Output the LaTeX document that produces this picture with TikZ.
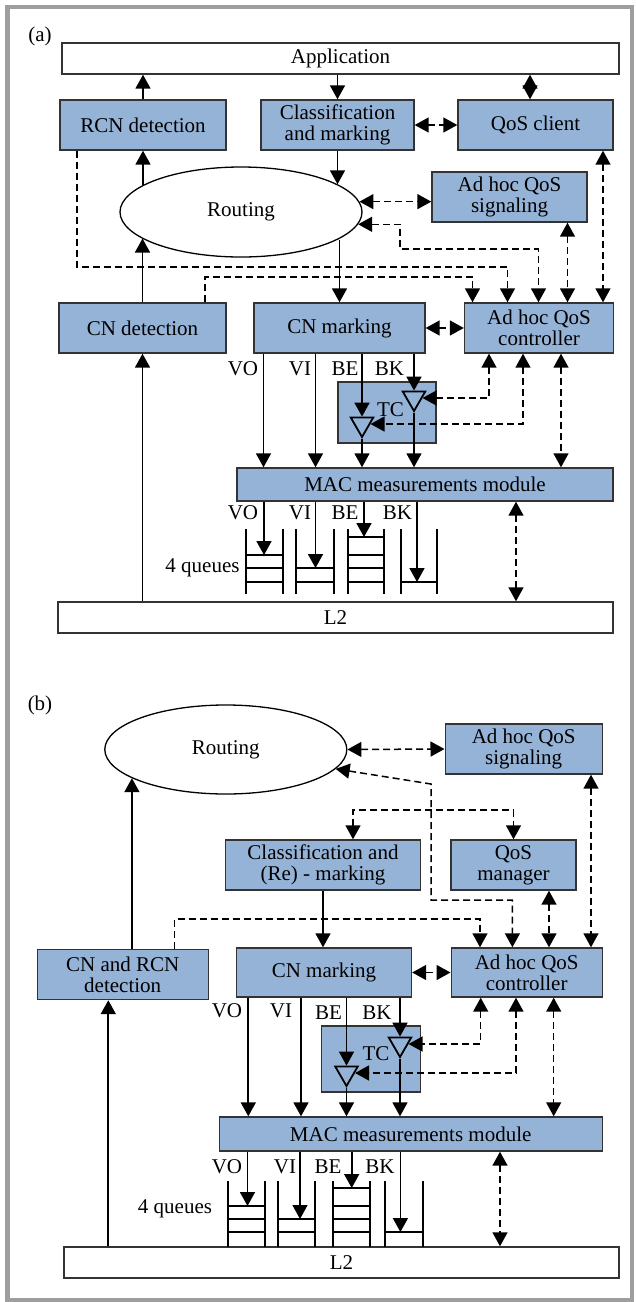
\documentclass[tikz,border=0pt]{standalone}
\usepackage{fontspec}
\setmainfont{Liberation Serif}
\usepackage{xcolor}
\usetikzlibrary{arrows.meta}
\usetikzlibrary{shapes.geometric}
\usetikzlibrary{calc}
\definecolor{boxblue}{RGB}{149,179,215}
\definecolor{framegray}{RGB}{158,158,158}

\begin{document}
\begin{tikzpicture}[x=1pt,y=-1pt,font=\fontsize{21}{21}\selectfont,
  blk/.style={draw=black!80,fill=boxblue,line width=1.4pt,align=center,inner sep=0pt},
  wblk/.style={draw=black!80,fill=white,line width=1.4pt,inner sep=0pt},
  oval/.style={draw=black,fill=white,ellipse,line width=1.3pt,inner sep=0pt},
  tri/.style={draw=black,regular polygon,regular polygon sides=3,shape border rotate=180,minimum size=26pt,inner sep=0pt,line width=1.8pt},
  arr/.style={line width=1.7pt,-{Triangle[length=14pt,width=15pt]}},
  dto/.style={line width=1.5pt,dash pattern=on 7pt off 4pt,-{Triangle[length=14pt,width=15pt]}},
  darr/.style={line width=1.5pt,dash pattern=on 7pt off 4pt,{Triangle[length=14pt,width=15pt]}-{Triangle[length=14pt,width=15pt]}},
  qline/.style={line width=2pt}]
\useasboundingbox (0,0) rectangle (636,1302);
\draw[framegray,line width=4.5pt] (7.5,7) rectangle (632,1300);

% (a)
\coordinate (vo) at (263.5,0);
\coordinate (vi) at (315.5,0);
\coordinate (t1) at (489,0);
\coordinate (t2) at (523,0);
\coordinate (m1) at (561,0);
\coordinate (m2) at (516,0);
\coordinate (q0) at (530,0);
\coordinate (c1) at (472.5,0);
\coordinate (c2) at (507.5,0);
\coordinate (c3) at (538.5,0);
\coordinate (c4) at (567.5,0);
\coordinate (c5) at (603,0);
\coordinate (k1) at (400,249);
\coordinate (k2) at (77,267);
\coordinate (k3) at (205,277);
\coordinate (qa1) at (264,555);
\coordinate (qa2) at (315.5,568);
\coordinate (qa3) at (364,537);
\coordinate (qa4) at (417,582);

\node (lba) at (40,36) {(a)};
\node (app) at (340.5,58.5) [wblk,minimum width=557pt,minimum height=31pt] {Application};
\node (rcn) at (143,125) [blk,minimum width=166pt,minimum height=50pt] {RCN detection};
\node (cls) at (337.5,125) [blk,minimum width=153pt,minimum height=50pt] {Classification\\and marking};
\node (qosc) at (535.5,125) [blk,minimum width=155pt,minimum height=50pt] {QoS client};
\node (rout) at (241,212) [oval,minimum width=242pt,minimum height=90pt] {Routing};
\node (sig) at (509.5,197) [blk,minimum width=155pt,minimum height=50pt] {Ad hoc QoS\\signaling};
\node (cnd) at (142.5,328) [blk,minimum width=167pt,minimum height=50pt] {CN detection};
\node (cnm) at (339.5,328) [blk,minimum width=171pt,minimum height=50pt] {CN marking};
\node (ctrl) at (539,328) [blk,minimum width=149pt,minimum height=50pt] {Ad hoc QoS\\controller};
\node (tc) at (387,412.5) [blk,minimum width=98pt,minimum height=61pt] {};
\node (tcl) at (390.5,410) {TC};
\node (upt) at (414,398) [tri] {};
\node (lot) at (362,424) [tri] {};
\node (mac) at (425,484.5) [blk,minimum width=376pt,minimum height=33pt] {MAC measurements module};
\node (ltwo) at (335.5,617.5) [wblk,minimum width=555pt,minimum height=31pt] {L2};
\node (vo1) at (243,369) {VO};
\node (vi1) at (300,369) {VI};
\node (be1) at (345,369) {BE};
\node (bk1) at (389.5,369) {BK};
\node (vo2) at (243,513) {VO};
\node (vi2) at (300,513) {VI};
\node (be2) at (345,513) {BE};
\node (bk2) at (397.5,513) {BK};
\node (nq) at (202.5,568) {4 queues};

\draw[arr] (rcn.north) -- (rcn.north |- app.south);
\draw[arr] (cls.north |- app.south) -- (cls.north);
\draw[darr] (q0 |- app.south) -- (q0 |- qosc.north);
\draw[darr] (cls.east) -- (qosc.west);
\draw[arr] (rcn.south |- rout.165) -- (rcn.south);
\draw[arr] (cls.south) -- (cls.south |- rout.16);
\draw[darr] (rout.5) -- (rout.5 -| sig.west);
\draw[darr] (rout.-6) -| (k1) -| (c3 |- ctrl.north);
\draw[dto] (k2 |- rcn.south) -- (k2) -| (c2 |- ctrl.north);
\draw[dto] (k3 |- cnd.north) -- (k3) -| (c1 |- ctrl.north);
\draw[darr] (c4 |- sig.south) -- (c4 |- ctrl.north);
\draw[darr] (c5 |- qosc.south) -- (c5 |- ctrl.north);
\draw[arr] (cnm.north |- rout.-16) -- (cnm.north);
\draw[arr] (cnd.north) -- (cnd.north |- rout.195);
\draw[darr] (cnm.east) -- (ctrl.west);
\draw[arr] (vo |- cnm.south) -- (vo |- mac.north);
\draw[arr] (vi |- cnm.south) -- (vi |- mac.north);
\draw[arr] (lot |- cnm.south) -- (lot.north);
\draw[arr] (lot.south) -- (lot |- mac.north);
\draw[arr] (upt |- cnm.south) -- (upt.north);
\draw[arr] (upt.south) -- (upt |- mac.north);
\draw[darr] (t1 |- ctrl.south) |- (upt.east);
\draw[darr] (t2 |- ctrl.south) |- (lot.east);
\draw[darr] (m1 |- ctrl.south) -- (m1 |- mac.north);
\draw[darr] (m2 |- mac.south) -- (m2 |- ltwo.north);
\draw[arr] (cnd |- ltwo.north) -- (cnd.south);

\draw[qline] (246,529) -- (246,594) (283,529) -- (283,594) (246,555) -- (283,555) (246,568) -- (283,568) (246,582) -- (283,582);
\draw[qline] (296,529) -- (296,594) (333.5,529) -- (333.5,594) (296,568) -- (333.5,568) (296,582) -- (333.5,582);
\draw[qline] (348,529) -- (348,594) (384,529) -- (384,594) (348,537) -- (384,537) (348,555) -- (384,555) (348,568) -- (384,568) (348,582) -- (384,582);
\draw[qline] (401,529) -- (401,594) (436.5,529) -- (436.5,594) (401,582) -- (436.5,582);
\draw[arr] (qa1 |- mac.south) -- (qa1);
\draw[arr] (qa2 |- mac.south) -- (qa2);
\draw[arr] (qa3 |- mac.south) -- (qa3);
\draw[arr] (qa4 |- mac.south) -- (qa4);

% (b)
\coordinate (vob) at (248.3,0);
\coordinate (vib) at (301,0);
\coordinate (t3) at (480.7,0);
\coordinate (t4) at (516,0);
\coordinate (m3) at (553.7,0);
\coordinate (m4) at (500,0);
\coordinate (d1) at (108.3,0);
\coordinate (c6) at (480,0);
\coordinate (c7) at (512.4,0);
\coordinate (c8) at (549,0);
\coordinate (c9) at (591,0);
\coordinate (k4) at (431,784);
\coordinate (k5) at (431,900);
\coordinate (k6) at (353,810);
\coordinate (k7) at (513.5,810);
\coordinate (k8) at (174.4,919);
\coordinate (qb1) at (247.5,1206);
\coordinate (qb2) at (300,1219);
\coordinate (qb3) at (351.7,1188);
\coordinate (qb4) at (400.4,1232);

\node (lbb) at (40,705) {(b)};
\node (rout2) at (225.8,749.5) [oval,minimum width=242pt,minimum height=89pt] {Routing};
\node (sig2) at (523.7,749) [blk,minimum width=157pt,minimum height=50pt] {Ad hoc QoS\\signaling};
\node (cls2) at (323,865) [blk,minimum width=195pt,minimum height=50pt] {Classification and\\(Re) - marking};
\node (mgr) at (513.5,865) [blk,minimum width=125pt,minimum height=50pt] {QoS\\manager};
\node (det) at (122.7,974.5) [blk,minimum width=171pt,minimum height=50pt] {CN and RCN\\detection};
\node (cnm2) at (324,972.5) [blk,minimum width=175pt,minimum height=49pt] {CN marking};
\node (ctrl2) at (526.7,972.5) [blk,minimum width=151pt,minimum height=49pt] {Ad hoc QoS\\controller};
\node (tc2) at (371,1059) [blk,minimum width=99pt,minimum height=66pt] {};
\node (tcl2) at (376,1054) {TC};
\node (upt2) at (400,1044) [tri] {};
\node (lot2) at (346.5,1073) [tri] {};
\node (mac2) at (410.7,1134) [blk,minimum width=383pt,minimum height=34pt] {MAC measurements module};
\node (ltwo2) at (341.5,1262.5) [wblk,minimum width=555pt,minimum height=31pt] {L2};
\node (vo3) at (227,1011) {VO};
\node (vi3) at (281,1011) {VI};
\node (be3) at (328.6,1013) {BE};
\node (bk3) at (377,1013) {BK};
\node (vo4) at (227,1167) {VO};
\node (vi4) at (285,1167) {VI};
\node (be4) at (328,1167) {BE};
\node (bk4) at (380,1167) {BK};
\node (nq2) at (175,1209) {4 queues};

\draw[darr] (rout2.east) -- (sig2.west);
\draw[darr] (rout2.-10) -- (k4) -- (k5) -| (c7 |- ctrl2.north);
\draw[darr] (k6 |- cls2.north) -- (k6) -- (k7) -- (mgr.north);
\draw[darr] (c8 |- mgr.south) -- (c8 |- ctrl2.north);
\draw[darr] (c9 |- sig2.south) -- (c9 |- ctrl2.north);
\draw[arr] (cls2.south) -- (cls2.south |- cnm2.north);
\draw[dto] (k8 |- det.north) -- (k8) -| (c6 |- ctrl2.north);
\draw[arr] (rout2.197 |- det.north) -- (rout2.197);
\draw[darr] (cnm2.east) -- (ctrl2.west);
\draw[arr] (vob |- cnm2.south) -- (vob |- mac2.north);
\draw[arr] (vib |- cnm2.south) -- (vib |- mac2.north);
\draw[arr] (lot2 |- cnm2.south) -- (lot2.north);
\draw[arr] (lot2.south) -- (lot2 |- mac2.north);
\draw[arr] (upt2 |- cnm2.south) -- (upt2.north);
\draw[arr] (upt2.south) -- (upt2 |- mac2.north);
\draw[darr] (t3 |- ctrl2.south) |- (upt2.east);
\draw[darr] (t4 |- ctrl2.south) |- (lot2.east);
\draw[darr] (m3 |- ctrl2.south) -- (m3 |- mac2.north);
\draw[darr] (m4 |- mac2.south) -- (m4 |- ltwo2.north);
\draw[arr] (d1 |- ltwo2.north) -- (d1 |- det.south);

\draw[qline] (228,1181) -- (228,1247) (265,1181) -- (265,1247) (228,1206) -- (265,1206) (228,1219) -- (265,1219) (228,1232) -- (265,1232);
\draw[qline] (278,1181) -- (278,1247) (315,1181) -- (315,1247) (278,1219) -- (315,1219) (278,1232) -- (315,1232);
\draw[qline] (332.7,1181) -- (332.7,1247) (370.4,1181) -- (370.4,1247) (332.7,1188) -- (370.4,1188) (332.7,1206) -- (370.4,1206) (332.7,1219) -- (370.4,1219) (332.7,1232) -- (370.4,1232);
\draw[qline] (385.4,1181) -- (385.4,1247) (422.7,1181) -- (422.7,1247) (385.4,1232) -- (422.7,1232);
\draw[arr] (qb1 |- mac2.south) -- (qb1);
\draw[arr] (qb2 |- mac2.south) -- (qb2);
\draw[arr] (qb3 |- mac2.south) -- (qb3);
\draw[arr] (qb4 |- mac2.south) -- (qb4);
\end{tikzpicture}
\end{document}
